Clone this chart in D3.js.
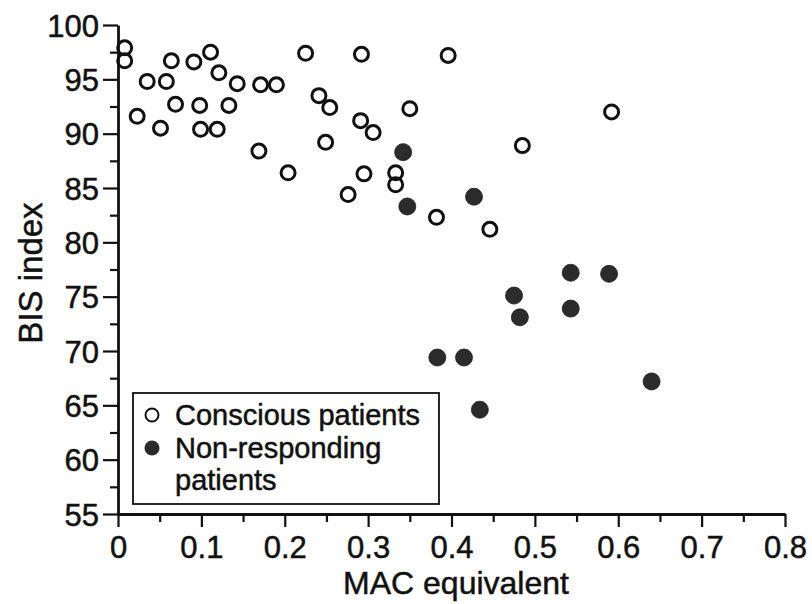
<!DOCTYPE html>
<html>
<head>
<meta charset="utf-8">
<script src="https://cdn.jsdelivr.net/npm/d3@7"></script>
<style>
    html, body { margin: 0; padding: 0; background: #fff; }
    svg { display: block; font-family: 'Liberation Sans', Arial, Helvetica, sans-serif; }
    svg text { stroke: #111; stroke-width: 0.5px; }
</style>
</head>
<body>
<svg id="chart" width="812" height="604"></svg>
<script>
// conscious patients (open circles)
const consciousMac = [
    0.008, 0.008, 0.023, 0.035, 0.058, 0.051, 0.064, 0.069, 0.091, 0.111,
    0.098, 0.099, 0.119, 0.121, 0.133, 0.143, 0.171, 0.190, 0.169, 0.204,
    0.225, 0.241, 0.254, 0.249, 0.292, 0.291, 0.306, 0.295, 0.276, 0.396,
    0.350, 0.333, 0.333, 0.382, 0.446, 0.592, 0.485,
];
const consciousBis = [
    97.9, 96.7, 91.6, 94.8, 94.8, 90.5, 96.7, 92.7, 96.6, 97.5,
    92.6, 90.4, 90.4, 95.6, 92.6, 94.6, 94.5, 94.5, 88.4, 86.4,
    97.4, 93.5, 92.4, 89.2, 97.3, 91.2, 90.1, 86.3, 84.4, 97.2,
    92.3, 86.4, 85.3, 82.3, 81.2, 92.0, 88.9,
];

// non-responding patients (filled circles)
const nonRespMac = [0.342, 0.347, 0.427, 0.543, 0.589, 0.475, 0.482, 0.543, 0.383, 0.415, 0.640, 0.434];
const nonRespBis = [88.3, 83.3, 84.2, 77.2, 77.1, 75.1, 73.1, 73.9, 69.4, 69.4, 67.2, 64.6];

const xMajorTicks = [0, 0.1, 0.2, 0.3, 0.4, 0.5, 0.6, 0.7, 0.8];
const xMinorTicks = [0.05, 0.15, 0.25, 0.35, 0.45, 0.55, 0.65, 0.75];
const yMajorTicks = [55, 60, 65, 70, 75, 80, 85, 90, 95, 100];
const yMinorTicks = [57.5, 62.5, 67.5, 72.5, 77.5, 82.5, 87.5, 92.5, 97.5];

const legendLabels = ['Conscious patients', 'Non-responding', 'patients'];

const ink = '#111';
const svg = d3.select('#chart');

const x = d3.scaleLinear().domain([0, 0.8]).range([118, 785]);
const y = d3.scaleLinear().domain([55, 100]).range([514, 25]);

// minor ticks first, major axis drawn on top
svg.append('g')
    .attr('transform', `translate(0, ${ y(55) })`)
    .call(d3.axisBottom(x).tickValues(xMinorTicks).tickSize(8).tickFormat(''))
    .call((g) => g.select('.domain').remove());
svg.append('g')
    .attr('transform', `translate(${ x(0) }, 0)`)
    .call(d3.axisLeft(y).tickValues(yMinorTicks).tickSize(8).tickFormat(''))
    .call((g) => g.select('.domain').remove());

const xAxis = svg.append('g')
    .attr('class', 'x-axis')
    .attr('transform', `translate(0, ${ y(55) })`)
    .call(
        d3.axisBottom(x)
            .tickValues(xMajorTicks)
            .tickSize(13)
            .tickSizeOuter(0)
            .tickPadding(9)
            .tickFormat((d) => (d === 0 ? '0' : d3.format('.1f')(d))),
    );

const yAxis = svg.append('g')
    .attr('class', 'y-axis')
    .attr('transform', `translate(${ x(0) }, 0)`)
    .call(
        d3.axisLeft(y)
            .tickValues(yMajorTicks)
            .tickSize(15)
            .tickSizeOuter(0)
            .tickPadding(4),
    );

svg.selectAll('.tick line').attr('stroke', ink).attr('stroke-width', 2.2);
svg.selectAll('.domain').attr('stroke', ink).attr('stroke-width', 2.8);
xAxis.selectAll('text').attr('fill', ink).style('font-size', '31px');
yAxis.selectAll('text').attr('fill', ink).style('font-size', '31px').attr('dy', '0.36em');

// axis titles
svg.append('text')
    .attr('x', 456)
    .attr('y', 594)
    .attr('text-anchor', 'middle')
    .attr('fill', ink)
    .style('font-size', '32px')
    .text('MAC equivalent');

svg.append('text')
    .attr('transform', 'translate(42, 273) rotate(-90)')
    .attr('text-anchor', 'middle')
    .attr('fill', ink)
    .style('font-size', '33px')
    .text('BIS index');

// points
const conscious = consciousMac.map((m, i) => ({ mac: m, bis: consciousBis[i] }));
const nonResp = nonRespMac.map((m, i) => ({ mac: m, bis: nonRespBis[i] }));

svg.append('g')
    .selectAll('circle')
    .data(conscious)
    .enter()
    .append('circle')
    .attr('cx', (d) => x(d.mac))
    .attr('cy', (d) => y(d.bis))
    .attr('r', 7)
    .attr('fill', 'none')
    .attr('stroke', ink)
    .attr('stroke-width', 3);

svg.append('g')
    .selectAll('circle')
    .data(nonResp)
    .enter()
    .append('circle')
    .attr('cx', (d) => x(d.mac))
    .attr('cy', (d) => y(d.bis))
    .attr('r', 8.5)
    .attr('fill', '#2b2b2b')
    .attr('stroke', '#1a1a1a')
    .attr('stroke-width', 0.8);

// legend
const legend = svg.append('g').attr('class', 'legend');
legend.append('rect')
    .attr('x', 133)
    .attr('y', 393)
    .attr('width', 306)
    .attr('height', 111)
    .attr('fill', '#fff')
    .attr('stroke', ink)
    .attr('stroke-width', 1.8);

legend.append('circle')
    .attr('cx', 152)
    .attr('cy', 415)
    .attr('r', 6.5)
    .attr('fill', 'none')
    .attr('stroke', ink)
    .attr('stroke-width', 2);
legend.append('circle')
    .attr('cx', 152)
    .attr('cy', 448)
    .attr('r', 7.5)
    .attr('fill', '#2b2b2b');

legend.selectAll('.legend-label')
    .data(legendLabels)
    .enter()
    .append('text')
    .attr('class', 'legend-label')
    .attr('x', 175)
    .attr('y', (d, i) => 425 + i * 32.5)
    .attr('fill', ink)
    .style('font-size', '29px')
    .text((d) => d);
</script>
</body>
</html>
